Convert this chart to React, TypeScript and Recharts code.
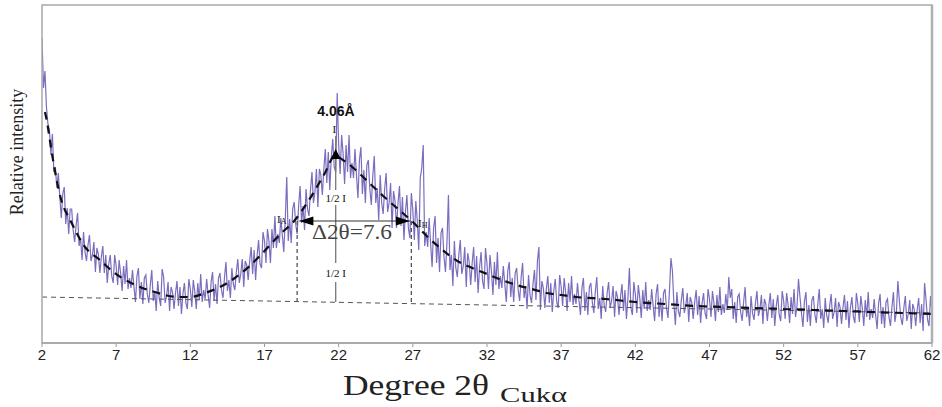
import { ComposedChart, Line, XAxis, YAxis, ReferenceLine, ReferenceDot } from "recharts";

// measured intensity, one value every 0.1 deg from 2.0 to 62.0 (arbitrary units)
const START = 2;
const STEP = 0.1;
const intensity = [
  305, 255, 272, 236, 219, 213, 188, 209, 171, 176,
  155, 170, 146, 125, 149, 156, 119, 135, 109, 134,
  134, 113, 101, 118, 130, 97, 105, 83, 111, 91,
  82, 98, 108, 82, 88, 101, 71, 95, 89, 70,
  86, 97, 70, 88, 60, 79, 88, 67, 60, 88,
  77, 58, 83, 70, 52, 77, 59, 83, 54, 65,
  55, 73, 56, 41, 67, 75, 44, 61, 39, 65,
  68, 49, 40, 58, 73, 42, 52, 32, 62, 45,
  37, 74, 66, 40, 47, 61, 32, 56, 51, 34,
  50, 62, 37, 56, 29, 49, 60, 40, 34, 64,
  54, 36, 63, 51, 34, 60, 43, 69, 41, 53,
  44, 64, 48, 35, 61, 71, 42, 59, 39, 65,
  70, 53, 45, 65, 81, 52, 63, 45, 75, 59,
  53, 71, 84, 60, 69, 84, 56, 82, 78, 63,
  82, 96, 69, 93, 63, 87, 103, 79, 75, 111,
  102, 80, 114, 102, 80, 114, 95, 127, 95, 109,
  100, 125, 108, 91, 124, 166, 102, 124, 100, 134,
  141, 119, 109, 137, 157, 120, 137, 113, 154, 134,
  127, 153, 171, 140, 151, 174, 136, 174, 168, 148,
  174, 194, 160, 191, 153, 185, 204, 176, 171, 250,
  198, 169, 208, 189, 159, 198, 171, 208, 165, 180,
  165, 194, 168, 145, 183, 196, 149, 173, 140, 178,
  183, 154, 138, 167, 187, 140, 155, 123, 168, 140,
  129, 154, 170, 131, 140, 160, 115, 152, 142, 115,
  140, 157, 117, 146, 103, 131, 148, 115, 105, 150,
  133, 103, 142, 122, 93, 165, 175, 198, 97, 111,
  96, 125, 99, 76, 115, 127, 80, 105, 71, 110,
  115, 86, 71, 100, 148, 73, 88, 57, 102, 75,
  66, 88, 103, 69, 77, 96, 56, 90, 81, 58,
  80, 96, 61, 87, 50, 76, 91, 62, 54, 95,
  79, 54, 88, 72, 48, 81, 58, 91, 54, 67,
  55, 77, 59, 41, 72, 81, 46, 65, 41, 70,
  75, 53, 42, 65, 80, 45, 57, 34, 68, 48,
  40, 59, 73, 43, 82, 96, 33, 62, 55, 35,
  54, 67, 40, 60, 31, 52, 64, 41, 35, 68,
  56, 37, 65, 51, 32, 60, 41, 67, 38, 49,
  39, 60, 43, 28, 55, 65, 32, 51, 28, 56,
  60, 41, 30, 51, 66, 34, 45, 24, 57, 38,
  31, 50, 61, 35, 42, 57, 26, 52, 46, 28,
  46, 59, 32, 53, 24, 45, 75, 35, 28, 61,
  49, 30, 58, 45, 25, 53, 34, 61, 32, 43,
  33, 54, 37, 22, 49, 59, 26, 45, 22, 50,
  54, 35, 25, 52, 85, 72, 39, 18, 51, 32,
  26, 43, 55, 30, 37, 50, 21, 46, 41, 24,
  41, 53, 28, 47, 20, 40, 50, 30, 24, 54,
  44, 26, 52, 40, 22, 48, 31, 56, 28, 39,
  30, 49, 33, 66, 45, 54, 24, 41, 20, 46,
  49, 31, 22, 41, 56, 26, 36, 17, 47, 30,
  23, 40, 52, 27, 34, 48, 19, 44, 39, 22,
  38, 50, 25, 44, 17, 37, 48, 28, 22, 52,
  42, 24, 50, 38, 20, 46, 29, 54, 26, 37,
  64, 46, 30, 16, 42, 51, 21, 38, 17, 43,
  47, 29, 20, 39, 54, 24, 34, 15, 45, 28,
  20, 37, 49, 24, 31, 45, 16, 41, 36, 19,
  36, 48, 23, 42, 15, 35, 46, 26, 20, 50,
  39, 21, 47, 35, 17, 43, 26, 51, 23, 34,
  25, 44, 28, 14, 40, 49, 19, 36, 15, 41,
  44, 26, 17, 36, 51, 21, 31, 62, 42, 25,
  18, 35, 47, 22, 29, 43, 14, 39, 34, 17,
  33, 45, 20, 39, 12, 60, 43, 23, 17, 47,
  30,
];

// fitted envelope (dashed black curve)
const fitX = [2.2, 2.35, 2.6, 2.95, 3.3, 3.9, 4.9, 5.9, 6.9, 8.3, 9.6, 11.2, 12, 13, 14, 15, 16, 17, 18, 19, 20, 21, 21.8, 22, 23, 24, 25, 26, 27, 28, 29, 30, 31, 32, 33, 34, 35, 36, 37, 38, 40, 42, 44, 46, 48, 50, 52, 54, 56, 58, 60, 62];
const fitY = [231, 220, 196, 166, 143, 123, 96, 83, 70, 58, 51, 46, 46, 50, 56, 65, 77, 92, 108, 122, 143, 168, 188, 186, 175, 161, 147, 134, 121, 106, 93, 82, 75, 69, 63, 58, 54, 50, 48, 46, 44, 41, 39, 37, 36, 35, 34, 33, 32, 31, 30, 29];

// straight background line
const baseX = [2, 62];
const baseY = [46, 30];

const xTicks = [2, 7, 12, 17, 22, 27, 32, 37, 42, 47, 52, 57, 62];

// peak analysis values
const peak = { x: 21.8, y: 188 };
const halfY = 122;
const leftHalfX = 19.2;
const rightHalfX = 26.9;

const scan = intensity.map((v, i) => ({ x: +(START + i * STEP).toFixed(1), y: v }));
const fit = fitX.map((x, i) => ({ x, y: fitY[i] }));
const base = baseX.map((x, i) => ({ x, y: baseY[i] }));

const serif = "'Liberation Serif', 'Times New Roman', serif";
const sans = "'Liberation Sans', Arial, sans-serif";
const TOP = 2000;

const txt = (s: any, opts: any) => (p: any) => (
  <text x={p.cx} y={p.cy} fontFamily={serif} fill="#111" {...opts}>
    {s}
  </text>
);

const arrowHead = (dir: number) => (p: any) => (
  <polygon
    points={`${p.cx},${p.cy} ${p.cx - dir * 14},${p.cy - 4.5} ${p.cx - dir * 14},${p.cy + 4.5}`}
    fill="#000"
  />
);

const triangle = (p: any) => (
  <polygon points={`${p.cx},${p.cy - 6} ${p.cx - 5},${p.cy + 4} ${p.cx + 5},${p.cy + 4}`} fill="#000" />
);

export default function App() {
  return (
    <div style={{ position: "absolute", left: 0, top: 0, width: 942, height: 407, background: "#fff" }}>
      <ComposedChart width={942} height={407} margin={{ top: 5, right: 10, left: 42, bottom: 34 }}>
        <XAxis
          dataKey="x"
          type="number"
          domain={[2, 62]}
          ticks={xTicks}
          allowDataOverflow
          height={30}
          axisLine={{ stroke: "#999", strokeWidth: 1.5 }}
          tickLine={{ stroke: "#999" }}
          tickSize={4}
          tick={{ fill: "#222", fontSize: 15, fontFamily: "'Liberation Sans Narrow', 'Liberation Sans', Arial, sans-serif" }}
        />
        <YAxis type="number" domain={[0, 338]} hide allowDataOverflow />

        <Line data={scan} dataKey="y" stroke="#6255b3" strokeOpacity={0.85} strokeWidth={1.2} dot={false} isAnimationActive={false} />
        <Line data={base} dataKey="y" stroke="#555" strokeWidth={1} strokeDasharray="5 4" dot={false} isAnimationActive={false} />
        <Line data={fit} dataKey="y" type="monotone" stroke="#111" strokeWidth={2.2} strokeDasharray="8 6" dot={false} isAnimationActive={false} />

        {/* half-width construction */}
        <ReferenceLine zIndex={TOP} segment={[{ x: leftHalfX, y: halfY }, { x: leftHalfX, y: 41.5 }]} stroke="#555" strokeWidth={1.3} strokeDasharray="4 3" />
        <ReferenceLine zIndex={TOP} segment={[{ x: rightHalfX, y: halfY }, { x: rightHalfX, y: 38.5 }]} stroke="#555" strokeWidth={1.3} strokeDasharray="4 3" />
        <ReferenceLine zIndex={TOP} segment={[{ x: peak.x, y: 207 }, { x: peak.x, y: 153 }]} stroke="#777" strokeWidth={1.3} />
        <ReferenceLine zIndex={TOP} segment={[{ x: peak.x, y: 138 }, { x: peak.x, y: 80 }]} stroke="#777" strokeWidth={1.3} />
        <ReferenceLine zIndex={TOP} segment={[{ x: peak.x, y: 61 }, { x: peak.x, y: 41 }]} stroke="#777" strokeWidth={1.3} />
        <ReferenceLine zIndex={TOP} segment={[{ x: 19.35, y: halfY }, { x: 26.8, y: halfY }]} stroke="#333" strokeWidth={1.2} />
        <ReferenceDot zIndex={TOP} x={19.35} y={halfY} r={1} shape={arrowHead(-1)} />
        <ReferenceDot zIndex={TOP} x={26.8} y={halfY} r={1} shape={arrowHead(1)} />
        <ReferenceDot zIndex={TOP} x={peak.x} y={peak.y} r={1} shape={triangle} />

        <ReferenceDot zIndex={TOP} x={21.82} y={227} r={1} shape={txt("4.06Å", { fontFamily: sans, fontWeight: 700, fontSize: 14, textAnchor: "middle" })} />
        <ReferenceDot zIndex={TOP} x={21.7} y={210} r={1} shape={txt("I", { fontSize: 11, textAnchor: "middle" })} />
        <ReferenceDot zIndex={TOP} x={21.8} y={141} r={1} shape={txt("1/2 I", { fontSize: 11, textAnchor: "middle" })} />
        <ReferenceDot zIndex={TOP} x={21.8} y={66} r={1} shape={txt("1/2 I", { fontSize: 11, textAnchor: "middle" })} />
        <ReferenceDot
          zIndex={TOP}
          x={17.84}
          y={120}
          r={1}
          shape={(p: any) => (
            <text x={p.cx} y={p.cy} fontFamily={serif} fontSize={11} fill="#111">
              I<tspan fontSize={8} dy={1}>A</tspan>
            </text>
          )}
        />
        <ReferenceDot
          zIndex={TOP}
          x={27.35}
          y={116}
          r={1}
          shape={(p: any) => (
            <text x={p.cx} y={p.cy} fontFamily={serif} fontSize={11} fill="#111">
              I<tspan fontSize={8} dy={1}>H</tspan>
            </text>
          )}
        />
        <ReferenceDot zIndex={TOP} x={22.9} y={104} r={1} shape={txt("Δ2θ=7.6", { fontSize: 21, textAnchor: "middle", fill: "#444", textLength: 80, lengthAdjust: "spacingAndGlyphs" })} />
      </ComposedChart>

      <svg width={942} height={407} style={{ position: "absolute", left: 0, top: 0, pointerEvents: "none" }}>
        <rect x={42} y={5} width={890} height={338} fill="none" stroke="#a8a8a8" strokeWidth={1.5} />
        <line x1={932} y1={5} x2={932} y2={343} stroke="#b0b0b0" strokeWidth={2.5} />
        <text x={23} y={152} transform="rotate(-90 23 152)" textAnchor="middle" fontFamily={serif} fontSize={18} fill="#222">
          Relative intensity
        </text>
        <text x={343} y={395} fontFamily={serif} fontSize={30} fill="#222" textLength={146} lengthAdjust="spacingAndGlyphs">
          Degree 2θ
        </text>
        <text x={500} y={402} fontFamily={serif} fontSize={20} fill="#222" textLength={67} lengthAdjust="spacingAndGlyphs">
          Cukα
        </text>
      </svg>
    </div>
  );
}
